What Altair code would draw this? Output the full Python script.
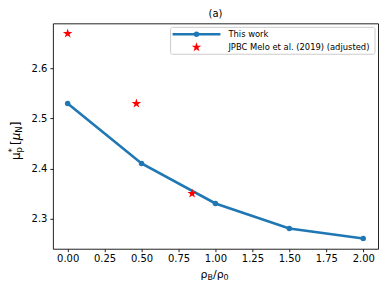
import altair as alt
import pandas as pd

# ---- data ----
rho_work = [0.0, 0.5, 1.0, 1.5, 2.0]
mu_work = [2.53, 2.41, 2.33, 2.28, 2.26]
rho_melo = [0.0, 0.465, 0.842]
mu_melo = [2.67, 2.53, 2.35]
x_ticks = [0.0, 0.25, 0.5, 0.75, 1.0, 1.25, 1.5, 1.75, 2.0]
y_ticks = [2.3, 2.4, 2.5, 2.6]
series_labels = ["This work", "JPBC Melo et al. (2019) (adjusted)"]
panel_title = "(a)"

BLUE = "#1f77b4"
FONT = "DejaVu Sans"
STAR = ("M0,-1L0.2245,-0.309L0.951,-0.309L0.363,0.118L0.588,0.809L0,0.382"
        "L-0.588,0.809L-0.363,0.118L-0.951,-0.309L-0.2245,-0.309Z")

W, H = 326, 226

df_work = pd.DataFrame({"rho": rho_work, "mu": mu_work})
df_melo = pd.DataFrame({"rho": rho_melo, "mu": mu_melo})
one = pd.DataFrame({"a": [0]})

xs = alt.Scale(domain=[-0.1, 2.1], nice=False, zero=False)
ys = alt.Scale(domain=[2.2395, 2.6905], nice=False, zero=False)

X = alt.X("rho:Q", scale=xs, axis=alt.Axis(values=x_ticks, format=".2f", title=None))
Y = alt.Y("mu:Q", scale=ys, axis=alt.Axis(values=y_ticks, format=".1f", title=None))

line = alt.Chart(df_work).mark_line(color=BLUE, strokeWidth=2.6).encode(x=X, y=Y)
dots = alt.Chart(df_work).mark_point(shape="circle", filled=True, opacity=1,
                                     color=BLUE, size=30).encode(x=X, y=Y)
stars = alt.Chart(df_melo).mark_point(shape=STAR, filled=True, opacity=1,
                                      color="red", size=100).encode(x=X, y=Y)

# ---- legend (decoration) ----
box = alt.Chart(one).mark_rect(fill="white", fillOpacity=0.8, stroke="#cccccc",
                               strokeWidth=1, cornerRadius=2).encode(
    x=alt.value(118), x2=alt.value(323), y=alt.value(4), y2=alt.value(31))
leg_line = alt.Chart(one).mark_rule(color=BLUE, strokeWidth=2.6).encode(
    x=alt.value(120), x2=alt.value(168), y=alt.value(11))
leg_dot = alt.Chart(one).mark_point(shape="circle", filled=True, opacity=1,
                                    color=BLUE, size=30).encode(
    x=alt.value(144), y=alt.value(11))
leg_star = alt.Chart(one).mark_point(shape=STAR, filled=True, opacity=1,
                                     color="red", size=100).encode(
    x=alt.value(144), y=alt.value(24))
leg_t1 = alt.Chart(one).mark_text(text=series_labels[0], font=FONT, fontSize=8.4,
                                  align="left", baseline="middle", color="black").encode(
    x=alt.value(176), y=alt.value(11))
leg_t2 = alt.Chart(one).mark_text(text=series_labels[1], font=FONT, fontSize=8.4,
                                  align="left", baseline="middle", color="black").encode(
    x=alt.value(176), y=alt.value(24))

# ---- titles (text) ----
def txt(s, x, y, size, angle=0, style="normal"):
    kw = dict(text=s, font=FONT, fontSize=size, align="left", baseline="middle",
              color="black", fontStyle=style)
    if angle:
        kw["angle"] = angle
    return alt.Chart(one).mark_text(**kw).encode(x=alt.value(x), y=alt.value(y))

title = alt.Chart(one).mark_text(text=panel_title, font=FONT, fontSize=10,
                                 align="center", baseline="middle", color="black").encode(
    x=alt.value(163), y=alt.value(-9))

xlab = [
    txt("ρ", 148, 252, 11),
    txt("B", 155, 255, 8),
    txt("/ρ", 160.5, 252, 11),
    txt("0", 171.2, 255, 8),
]
ylab = [
    txt("μ", -37, 137, 12, 270),
    txt("*", -41, 129.4, 8.5, 270),
    txt("p", -34, 129.4, 8.5, 270),
    txt("[", -37, 122, 12, 270),
    txt("μ", -37, 117.3, 12, 270, "italic"),
    txt("N", -34, 109.7, 8.5, 270),
    txt("]", -37, 103.3, 12, 270),
]

chart = alt.layer(
    line, dots, stars, box, leg_line, leg_dot, leg_star, leg_t1, leg_t2,
    title, *xlab, *ylab
).properties(
    width=W, height=H,
    autosize=alt.AutoSizeParams(type="none"),
    padding={"left": 45, "top": 15, "right": 3, "bottom": 35},
).configure_view(
    stroke="#222222", strokeWidth=1
).configure_axis(
    domain=False, grid=False, tickColor="#222222", tickSize=3, tickWidth=1,
    labelFont=FONT, labelFontSize=10, labelColor="black", labelPadding=2,
).configure_axisY(labelPadding=3)

chart.save("out.html", embed_options={"renderer": "svg", "actions": False})
